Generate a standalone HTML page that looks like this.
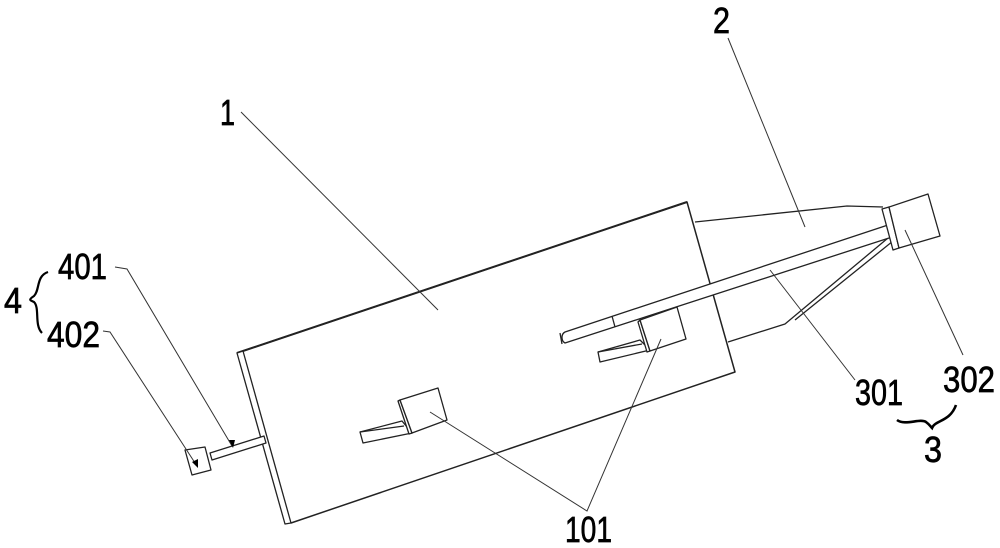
<!DOCTYPE html>
<html><head><meta charset="utf-8"><style>
html,body{margin:0;padding:0;background:#fff;}
svg{display:block;}
text{font-family:"Liberation Sans",sans-serif;font-size:36px;fill:#000;stroke:#000;stroke-width:0.7;}
</style></head><body>
<svg width="1000" height="548" viewBox="0 0 1000 548" xmlns="http://www.w3.org/2000/svg">
<g fill="none" stroke="#222" stroke-width="1.3" stroke-linejoin="round">
<polyline points="237,353 687,202 735,372 291,523" stroke-width="1.5"/>
<line x1="237" y1="353" x2="687" y2="202" stroke-width="2"/>
<polygon points="237,353 243,351 291,523 285,524" fill="#fff"/>
<polyline points="695,222 847,206 883,207"/>
<polyline points="728,342 785,324 888,238"/>
<line x1="795" y1="320" x2="893" y2="241"/>
<path d="M565,332 L888,225 A6,6 0 0 1 892,237 L565,343 A5,6 0 0 1 565,332 Z" fill="#fff"/>
<line x1="560" y1="333" x2="562" y2="344"/>
<line x1="612" y1="316" x2="615" y2="327"/>
<polygon points="882,209 889,207 899,248 893,250" fill="#fff"/>
<polygon points="889,207 928,194 940,236 899,248" fill="#fff"/>
<polygon points="598,352 640,340 650,350 600,362" fill="#fff"/>
<line x1="598" y1="352" x2="642" y2="344"/>
<polygon points="638,322 640,320 650,351 647,352" fill="#fff"/>
<polygon points="640,320 677,307 686,339 650,351" fill="#fff"/>
<polygon points="360,432 402,421 412,433 363,443" fill="#fff"/>
<line x1="360" y1="432" x2="404" y2="426"/>
<polygon points="398,401 400,400 412,433 409,434" fill="#fff"/>
<polygon points="400,400 438,388 447,420 412,433" fill="#fff"/>
<polygon points="210,453 264,436 266,443 212,460" fill="#fff"/>
<polygon points="185,450 205,447 211,470 192,475" fill="#fff"/>
</g>
<g fill="none" stroke="#333" stroke-width="1">
<line x1="241" y1="112" x2="438" y2="310"/>
<line x1="728" y1="38" x2="805" y2="227"/>
<polyline points="115,267 127,269 232,446"/>
<polyline points="103,331 110,332 197,466"/>
<polyline points="430,412 587,511 661,339"/>
<line x1="855" y1="380" x2="770" y2="270"/>
<line x1="963" y1="355" x2="905" y2="230"/>
</g>
<polygon points="229,440 235,440 233,448" fill="#000"/>
<polygon points="192,462 198,459 198,468" fill="#000"/>
<path d="M48,272 C36,276 40,290 34,296 C28,300 30,300 34,302 C40,308 34,325 42,333" fill="none" stroke="#000" stroke-width="2.2"/>
<path d="M897,420 C905,426 920,418 926,422 C930,425 930,426 932,428 C935,420 950,422 956,405" fill="none" stroke="#000" stroke-width="2.6"/>
<text x="220" y="125" textLength="15" lengthAdjust="spacingAndGlyphs">1</text>
<text x="713" y="33" textLength="17" lengthAdjust="spacingAndGlyphs">2</text>
<text x="58" y="279" textLength="49" lengthAdjust="spacingAndGlyphs">401</text>
<text x="4" y="313" textLength="18" lengthAdjust="spacingAndGlyphs">4</text>
<text x="47" y="347" textLength="53" lengthAdjust="spacingAndGlyphs">402</text>
<text x="565" y="542" textLength="47" lengthAdjust="spacingAndGlyphs">101</text>
<text x="855" y="405" textLength="48" lengthAdjust="spacingAndGlyphs">301</text>
<text x="943" y="392" textLength="52" lengthAdjust="spacingAndGlyphs">302</text>
<text x="924" y="462" textLength="18" lengthAdjust="spacingAndGlyphs">3</text>
</svg>
</body></html>
